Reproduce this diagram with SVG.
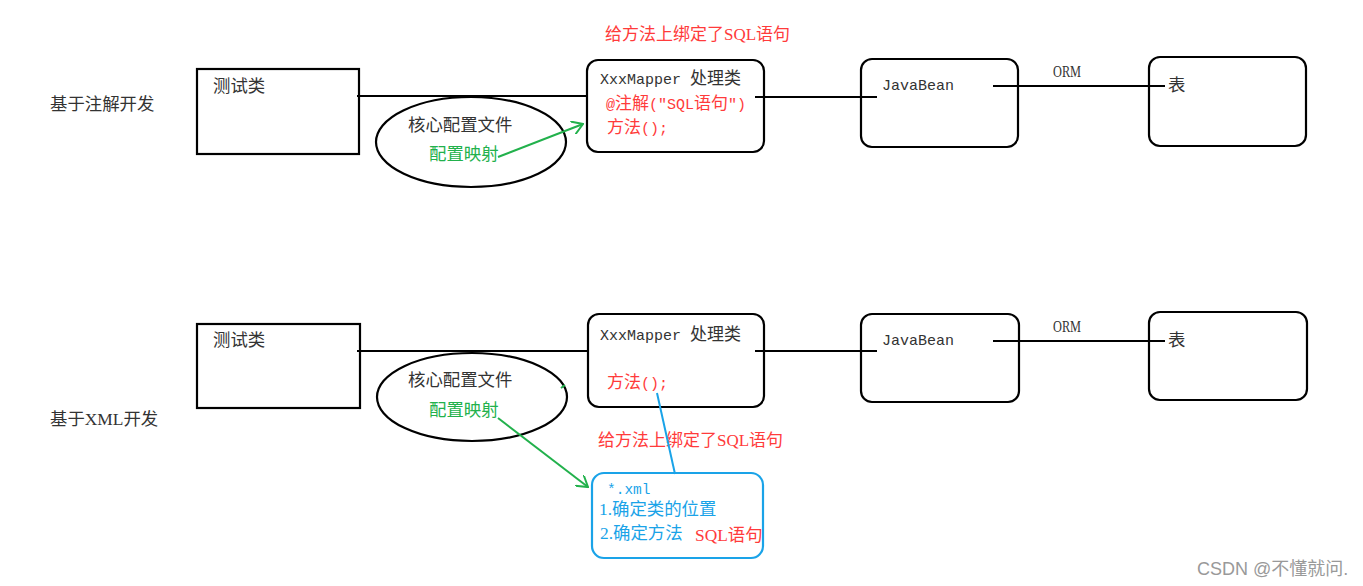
<svg xmlns="http://www.w3.org/2000/svg" width="1363" height="586" viewBox="0 0 1363 586">
<defs>
<style>
.box{fill:#fff;stroke:#000;stroke-width:2.2}
.blue{fill:#fff;stroke:#1aa3e8;stroke-width:2.2}
.ln{stroke:#000;stroke-width:2.2;fill:none}
.gl{stroke:#22b14c;stroke-width:2;fill:none}
.bl{stroke:#1aa3e8;stroke-width:2;fill:none}
text{font-family:"Liberation Serif","Noto Sans CJK SC",serif;font-size:17.4px;fill:#333}
.mono{font-family:"Liberation Mono","Noto Sans CJK SC",monospace;font-size:15px}
.cjk{font-family:"Noto Sans CJK SC",sans-serif;font-size:17px}
.red{fill:#ff3b3b}
.grn{fill:#22b14c}
.cy{fill:#1aa3e8}
.ttl{font-size:17px}
.orm{font-size:16px}
.xml{font-size:14.5px}
.wm{font-family:"Liberation Sans","Noto Sans CJK SC",sans-serif;font-size:18px;fill:#999}
</style>
<marker id="ga" viewBox="0 0 12 14" refX="11" refY="7" markerWidth="12" markerHeight="14" markerUnits="userSpaceOnUse" orient="auto"><path d="M0,0 L11,7 L0,14" fill="none" stroke="#22b14c" stroke-width="2"/></marker>
</defs>
<rect width="1363" height="586" fill="#fff"/>
<text x="50" y="110">基于注解开发</text>
<text x="50" y="425">基于XML开发</text>
<g id="n-test1"><rect class="box" x="197" y="69" width="162" height="85"/><text x="213" y="92">测试类</text></g>
<g id="n-core1"><ellipse class="box" cx="471" cy="142" rx="95" ry="45"/><text x="408" y="131">核心配置文件</text><text class="grn" x="429" y="160">配置映射</text></g>
<g id="n-mapper1"><rect class="box" x="587" y="60" width="177" height="92" rx="11"/><text class="mono" x="600" y="84">XxxMapper <tspan class="cjk">处理类</tspan></text><text class="mono red" x="606" y="109">@<tspan class="cjk">注解</tspan>("SQL<tspan class="cjk">语句</tspan>")</text><text class="mono red" x="607" y="133"><tspan class="cjk">方法</tspan>();</text></g>
<text class="red ttl" x="605" y="40">给方法上绑定了SQL语句</text>
<g id="n-bean1"><rect class="box" x="861" y="59" width="157" height="88" rx="11"/><text class="mono" x="882" y="90">JavaBean</text></g>
<text class="orm" x="1053" y="77" textLength="28" lengthAdjust="spacingAndGlyphs">ORM</text>
<g id="n-table1"><rect class="box" x="1149" y="57" width="157" height="89" rx="11"/><text x="1168" y="91">表</text></g>
<g id="n-test2"><rect class="box" x="197" y="324" width="163" height="84"/><text x="213" y="346">测试类</text></g>
<g id="n-core2"><ellipse class="box" cx="472" cy="397" rx="95" ry="44"/><text x="408" y="386">核心配置文件</text><text class="grn" x="429" y="416">配置映射</text></g>
<g id="n-mapper2"><rect class="box" x="588" y="314" width="176" height="93" rx="11"/><text class="mono" x="600" y="340">XxxMapper <tspan class="cjk">处理类</tspan></text><text class="mono red" x="607" y="388"><tspan class="cjk">方法</tspan>();</text></g>
<text class="red ttl" x="598" y="446">给方法上绑定了SQL语句</text>
<g id="n-xml"><rect class="blue" x="592" y="473" width="171" height="85" rx="12"/><text class="mono cy xml" x="607" y="494">*.xml</text><text class="cy" x="599" y="515">1.确定类的位置</text><text class="cy" x="600" y="539">2.确定方法</text><text class="red" x="695" y="541">SQL语句</text></g>
<g id="n-bean2"><rect class="box" x="861" y="314" width="158" height="88" rx="11"/><text class="mono" x="882" y="345">JavaBean</text></g>
<text class="orm" x="1053" y="332" textLength="28" lengthAdjust="spacingAndGlyphs">ORM</text>
<g id="n-table2"><rect class="box" x="1149" y="312" width="158" height="88" rx="11"/><text x="1168" y="346">表</text></g>
<g id="connectors">
<line class="ln" x1="357" y1="96" x2="588" y2="96"/>
<line class="ln" x1="755" y1="97" x2="877" y2="97"/>
<line class="ln" x1="993" y1="86" x2="1165" y2="86"/>
<line class="ln" x1="357" y1="351" x2="588" y2="351"/>
<line class="ln" x1="755" y1="351" x2="877" y2="351"/>
<line class="ln" x1="993" y1="341" x2="1165" y2="341"/>
<line class="gl" x1="498" y1="157" x2="583" y2="124" marker-end="url(#ga)"/>
<line class="gl" x1="498" y1="418" x2="588" y2="487" marker-end="url(#ga)"/>
<line class="gl" x1="561" y1="388" x2="565" y2="385"/>
<line class="bl" x1="657" y1="393" x2="675" y2="474"/>
</g>
<text class="wm" x="1197" y="575">CSDN @不懂就问.</text>
</svg>
